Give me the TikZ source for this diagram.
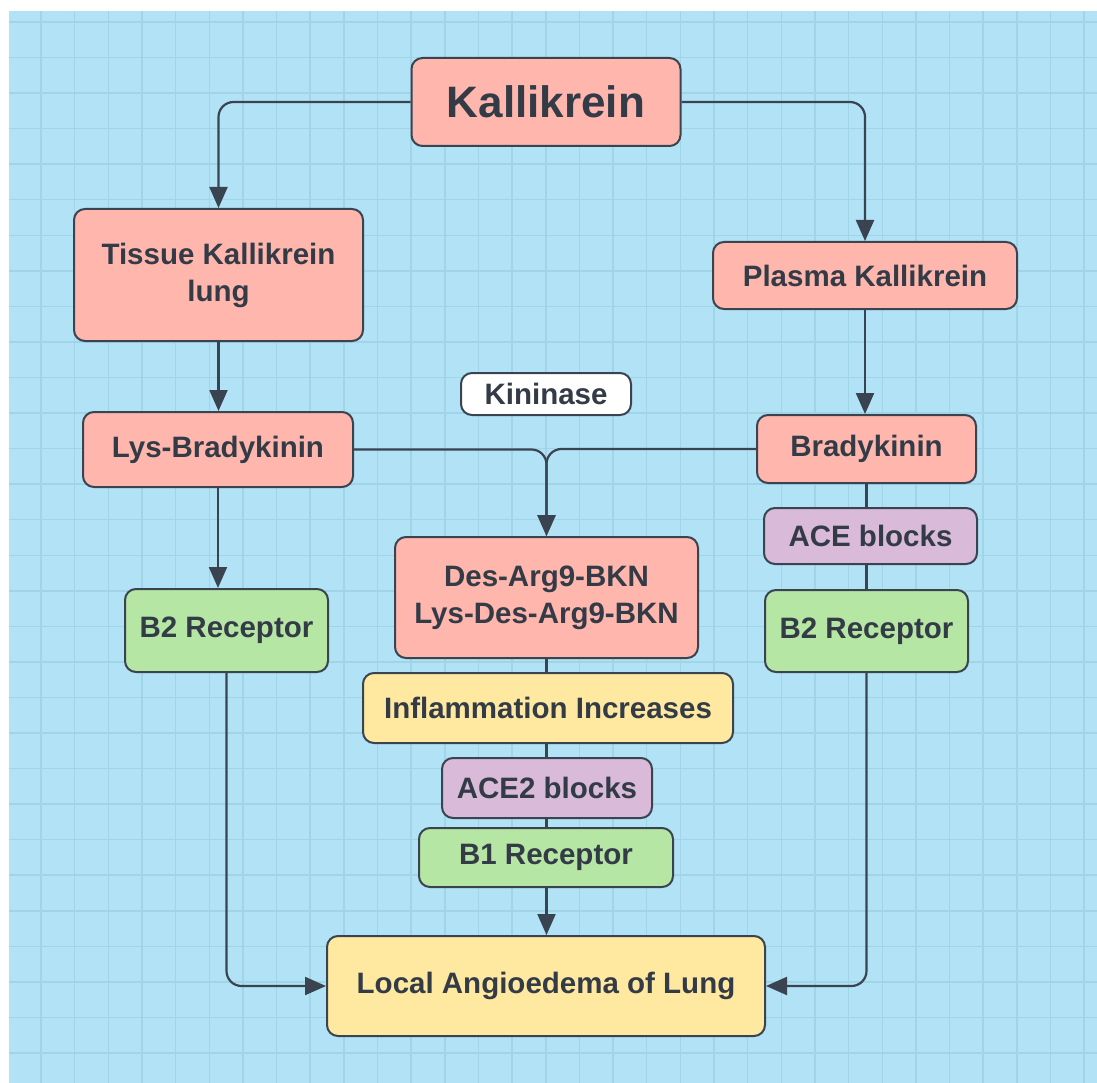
\documentclass[tikz,border=0pt]{standalone}
\usepackage{fontspec}
\setmainfont{Liberation Sans}
\usetikzlibrary{arrows.meta}
\definecolor{gridbg}{HTML}{B2E2F5}
\definecolor{gridline}{HTML}{A2D4E8}
\definecolor{kpink}{HTML}{FFB7AD}
\definecolor{kgreen}{HTML}{B6E6A3}
\definecolor{kyellow}{HTML}{FFE8A0}
\definecolor{kpurple}{HTML}{D9BAD9}
\definecolor{kline}{HTML}{3A4350}
\definecolor{ktext}{HTML}{333B47}

\begin{document}
\begin{tikzpicture}[x=1pt,y=-1pt,
					kbox/.style={rectangle,draw=kline,line width=2pt,rounded corners=11pt,
						inner sep=0pt,align=center,text=ktext,
						font=\fontsize{29.5}{37}\selectfont\bfseries},
					pinkbox/.style={kbox,fill=kpink},
					greenbox/.style={kbox,fill=kgreen},
					yellowbox/.style={kbox,fill=kyellow},
					purplebox/.style={kbox,fill=kpurple},
					link/.style={draw=kline,line width=2.2pt,rounded corners=15pt},
					arr/.style={link,-{Triangle[width=18pt,length=21pt]}},
					]
					\useasboundingbox (0,0) rectangle (1097,1083);
					% grid paper
					\fill[gridbg] (9,11) rectangle (1097,1083);
					\begin{scope}
						\clip (9,11) rectangle (1097,1083);
						\foreach \gx in {0,...,31}
							\draw[gridline,line width=1.5pt] ({41+33.65*\gx},11) -- ({41+33.65*\gx},1083);
						\foreach \gy in {0,...,29}
							\draw[gridline,line width=1.5pt] (9,{22+35.55*\gy}) -- (1097,{22+35.55*\gy});
					\end{scope}
					% boxes
					\node [pinkbox,minimum width=269pt,minimum height=88pt,
						font=\fontsize{44}{50}\selectfont\bfseries] (kal) at (546,102) {Kallikrein};
					\node [pinkbox,minimum width=289pt,minimum height=132pt] (tissue) at (218.5,275) {Tissue Kallikrein\\lung};
					\node [pinkbox,minimum width=304pt,minimum height=67pt] (plasma) at (865,275.5) {Plasma Kallikrein};
					\node [kbox,fill=white,minimum width=170pt,minimum height=42pt] (kininase) at (546,394) {Kininase};
					\node [pinkbox,minimum width=270pt,minimum height=75pt] (lysbk) at (218,449.5) {Lys-Bradykinin};
					\node [pinkbox,minimum width=219pt,minimum height=68pt] (bk) at (866.5,449) {Bradykinin};
					\node [purplebox,minimum width=213pt,minimum height=56pt] (ace) at (870.5,536) {ACE blocks};
					\node [greenbox,minimum width=203pt,minimum height=82pt] (btworight) at (866.5,631) {B2 Receptor};
					\node [greenbox,minimum width=203pt,minimum height=83pt] (btwoleft) at (226.5,630.5) {B2 Receptor};
					\node [pinkbox,minimum width=303pt,minimum height=121pt] (desarg) at (546.5,597.5) {Des-Arg9-BKN\\Lys-Des-Arg9-BKN};
					\node [yellowbox,minimum width=370pt,minimum height=70pt] (inflam) at (548,708) {Inflammation Increases};
					\node [purplebox,minimum width=210pt,minimum height=60pt] (acetwo) at (547,788) {ACE2 blocks};
					\node [greenbox,minimum width=254pt,minimum height=59pt] (bone) at (546,857.5) {B1 Receptor};
					\node [yellowbox,minimum width=438pt,minimum height=100pt] (angio) at (546,986) {Local Angioedema of Lung};
					% connectors
					\draw[arr] (kal.west) -| (tissue.north);
					\draw[arr] (kal.east) -| (plasma.north);
					\draw[arr] (tissue.south) -- (tissue.south |- lysbk.north);
					\draw[arr] (plasma.south) -- (plasma.south |- bk.north);
					\draw[arr] (lysbk.east) -| (desarg.north);
					\draw[arr] (bk.west) -| (desarg.north);
					\draw[arr] (lysbk.south) -- (lysbk.south |- btwoleft.north);
					\draw[arr] (btwoleft.south) |- (angio.west);
					\draw[link] (bk.south) -- (bk.south |- ace.north);
					\draw[link] (bk.south |- ace.south) -- (bk.south |- btworight.north);
					\draw[arr] (btworight.south) |- (angio.east);
					\draw[link] (desarg.south) -- (desarg.south |- inflam.north);
					\draw[link] (desarg.south |- inflam.south) -- (desarg.south |- acetwo.north);
					\draw[link] (desarg.south |- acetwo.south) -- (desarg.south |- bone.north);
					\draw[arr] (desarg.south |- bone.south) -- (desarg.south |- angio.north);
				\end{tikzpicture}
\end{document}
